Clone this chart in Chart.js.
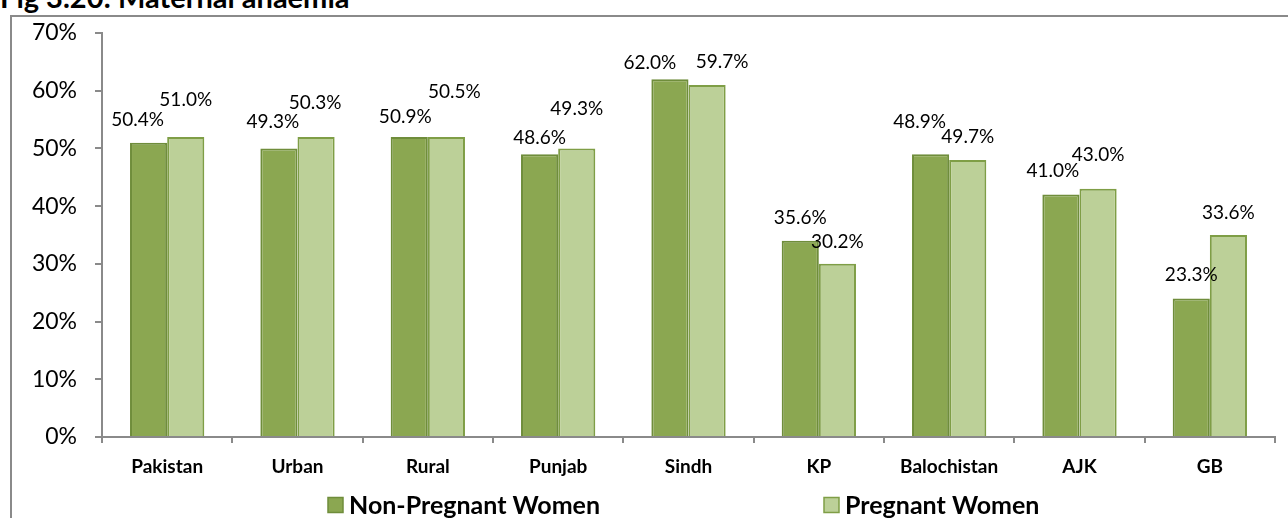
<!DOCTYPE html>
<html>
<head>
<meta charset="utf-8">
<title>Fig 3.20: Maternal anaemia</title>
<script src="https://cdn.jsdelivr.net/npm/chart.js@4.4.0/dist/chart.umd.min.js"></script>
<style>
    body { margin: 0; background: #fff; }
    #wrap { position: relative; width: 1288px; height: 518px; overflow: hidden; }
    #title { position: absolute; left: 0; top: -21px; font: bold 29px Lato, sans-serif; color: #000; white-space: nowrap; }
    #frame { position: absolute; left: 10px; top: 15px; width: 1290px; height: 520px; border-top: 2px solid #8a8a8a; border-left: 2px solid #8a8a8a; }
    #bar-chart { position: absolute; left: 0; top: 0; }
</style>
</head>
<body>
<div id="wrap">
    <div id="title">Fig 3.20: Maternal anaemia</div>
    <div id="frame"></div>
    <canvas id="bar-chart" width="1288" height="518"></canvas>
</div>
<script>
var regioni = ['Pakistan', 'Urban', 'Rural', 'Punjab', 'Sindh', 'KP', 'Balochistan', 'AJK', 'GB'];
// bar heights as drawn in the picture
var nonPregnant = [51, 50, 52, 49, 62, 34, 49, 42, 24];
var pregnant = [52, 52, 52, 50, 61, 30, 48, 43, 35];
// the printed labels (they do not match the bars exactly in the original)
var etichetteNP = ['50.4%', '49.3%', '50.9%', '48.6%', '62.0%', '35.6%', '48.9%', '41.0%', '23.3%'];
var etichetteP = ['51.0%', '50.3%', '50.5%', '49.3%', '59.7%', '30.2%', '49.7%', '43.0%', '33.6%'];
var yTicks = [0, 10, 20, 30, 40, 50, 60, 70];

// label nudges [dx, dy] from the top centre of each bar
var spostaNP = [[-11, -23], [-6, -27], [-4, -20], [0, -16], [-20, -16], [0, -23], [-11, -32], [-8, -24], [0, -24]];
var spostaP = [[0, -37], [-1, -34], [8, -45], [0, -40], [15, -23], [0, -22], [0, -23], [0, -34], [0, -22]];

var etichettePlugin = {
    id: 'etichette',
    afterDatasetsDraw: function (chart) {
        var ctx = chart.ctx;
        var testi = [etichetteNP, etichetteP];
        var sposta = [spostaNP, spostaP];
        ctx.save();
        ctx.font = '19px Lato, sans-serif';
        ctx.fillStyle = '#000';
        ctx.textAlign = 'center';
        ctx.textBaseline = 'middle';
        for (var d = 0; d < 2; d++) {
            var meta = chart.getDatasetMeta(d);
            meta.data.forEach(function (bar, i) {
                ctx.fillText(testi[d][i], bar.x + sposta[d][i][0], bar.y + sposta[d][i][1]);
            });
        }
        ctx.restore();
    }
};

var legendaPlugin = {
    id: 'legenda',
    afterDraw: function (chart) {
        var ctx = chart.ctx;
        var posX = [328, 824];
        var y = 505;
        ctx.save();
        ctx.font = 'bold 25px Lato, sans-serif';
        ctx.textBaseline = 'middle';
        chart.data.datasets.forEach(function (ds, i) {
            ctx.fillStyle = ds.backgroundColor;
            ctx.strokeStyle = ds.borderColor;
            ctx.lineWidth = 1.5;
            ctx.fillRect(posX[i], y - 7.5, 15, 15);
            ctx.strokeRect(posX[i], y - 7.5, 15, 15);
            ctx.fillStyle = '#000';
            ctx.fillText(ds.label, posX[i] + 21, y + 1);
        });
        ctx.restore();
    }
};

var ctx = document.getElementById('bar-chart');
var chart = new Chart(ctx, {
    type: 'bar',
    data: {
        labels: regioni,
        datasets: [{
            label: 'Non-Pregnant Women',
            backgroundColor: '#8ba751',
            borderColor: '#6f8d3b',
            borderWidth: 2,
            data: nonPregnant
        }, {
            label: 'Pregnant Women',
            backgroundColor: '#bcd098',
            borderColor: '#7f9e46',
            borderWidth: 2,
            data: pregnant
        }]
    },
    options: {
        responsive: false,
        animation: false,
        events: [],
        categoryPercentage: 0.57,
        barPercentage: 1.0,
        layout: { padding: { left: 20, right: 13, top: 33, bottom: 0 } },
        plugins: {
            legend: { display: false },
            tooltip: { enabled: false }
        },
        scales: {
            x: {
                afterFit: function (scale) { scale.height = 81; },
                grid: { drawOnChartArea: false, drawTicks: true, tickLength: 6, color: '#8a8a8a', lineWidth: 2 },
                border: { color: '#8a8a8a', width: 2 },
                ticks: { color: '#000', padding: 12, font: { family: 'Lato', size: 19, weight: 'bold' } }
            },
            y: {
                min: 0,
                max: 70,
                afterFit: function (scale) { scale.width = 82; },
                afterBuildTicks: function (scale) {
                    scale.ticks = yTicks.map(function (v) { return { value: v }; });
                },
                grid: { drawOnChartArea: false, drawTicks: true, tickLength: 7, color: '#8a8a8a', lineWidth: 2 },
                border: { color: '#8a8a8a', width: 2 },
                ticks: {
                    color: '#000',
                    padding: 18,
                    font: { family: 'Lato', size: 23 },
                    callback: function (v) { return v + '%'; }
                }
            }
        }
    },
    plugins: [etichettePlugin, legendaPlugin]
});
</script>
</body>
</html>
